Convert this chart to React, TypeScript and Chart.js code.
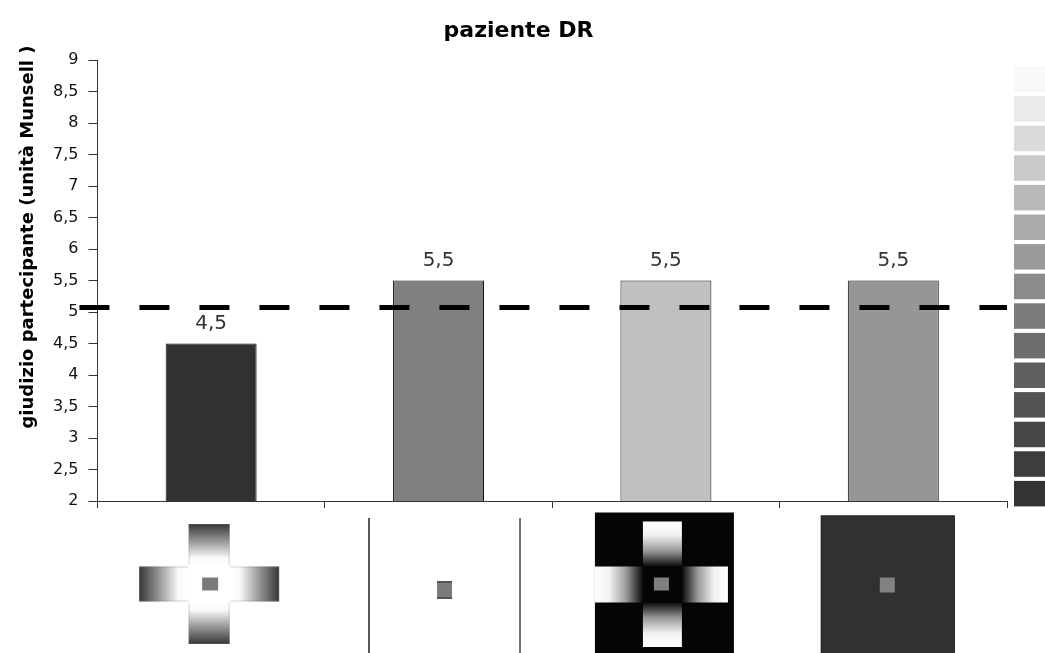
import React, { useEffect, useRef } from "react";
import { Chart, registerables } from "chart.js";

Chart.register(...registerables);

// ---- data ----
const chartTitle = "paziente DR";
const yAxisTitle = "giudizio partecipante (unità Munsell )";
const categories = ["croce chiara", "sfondo bianco", "croce scura", "sfondo scuro"];
const judgements = [4.5, 5.5, 5.5, 5.5];
const barColors = ["#313331", "#808080", "#c0c0c0", "#969696"];
const referenceLevel = 5.07;
const yMin = 2;
const yMax = 9;
const yStep = 0.5;
const munsellScale = [
  "#f8f8f8", "#ebebeb", "#dadada", "#c9c9c9", "#b8b8b8",
  "#aaaaaa", "#9b9b9b", "#8b8b8b", "#7c7c7c", "#6e6e6e",
  "#606060", "#535353", "#484848", "#3d3d3d", "#323332",
];
const stimulusKinds = ["crossLight", "plain", "crossDark", "darkSurround"];

const FONT = "'DejaVu Sans', 'Liberation Sans', sans-serif";
const fmt = (v: number | string) => String(v).replace(".", ",");

function linGrad(ctx: CanvasRenderingContext2D, x0: number, y0: number, x1: number, y1: number, stops: [number, string][]) {
  const g = ctx.createLinearGradient(x0, y0, x1, y1);
  stops.forEach(([o, c]) => g.addColorStop(o, c));
  return g;
}

const darkToWhite: [number, string][] = [[0, "#363636"], [0.45, "#a2a2a2"], [0.8, "#fafafa"], [1, "#ffffff"]];
const whiteToBlack: [number, string][] = [[0, "#ffffff"], [0.3, "#f2f2f2"], [0.65, "#9a9a9a"], [1, "#0a0a0a"]];

function drawCross(ctx: CanvasRenderingContext2D, ox: number, oy: number, aw: number, ah: number, hlL: number, hlR: number, vlT: number, vlB: number, stops: [number, string][], edge: string) {
  ctx.fillStyle = linGrad(ctx, 0, oy - vlT, 0, oy - ah, stops);
  ctx.fillRect(ox - aw, oy - vlT, aw * 2, vlT - ah);
  ctx.fillStyle = linGrad(ctx, 0, oy + vlB, 0, oy + ah, stops);
  ctx.fillRect(ox - aw, oy + ah, aw * 2, vlB - ah);
  ctx.fillStyle = linGrad(ctx, ox - hlL, 0, ox - aw, 0, stops);
  ctx.fillRect(ox - hlL, oy - ah, hlL - aw, ah * 2);
  ctx.fillStyle = linGrad(ctx, ox + hlR, 0, ox + aw, 0, stops);
  ctx.fillRect(ox + aw, oy - ah, hlR - aw, ah * 2);
  if (edge) {
    ctx.strokeStyle = edge;
    ctx.lineWidth = 1;
    ctx.strokeRect(ox - aw + 0.5, oy - vlT + 0.5, aw * 2 - 1, vlT - ah);
    ctx.strokeRect(ox - aw + 0.5, oy + ah - 0.5, aw * 2 - 1, vlB - ah);
    ctx.strokeRect(ox - hlL + 0.5, oy - ah + 0.5, hlL - aw, ah * 2 - 1);
    ctx.strokeRect(ox + aw - 0.5, oy - ah + 0.5, hlR - aw, ah * 2 - 1);
  }
}

function drawStimulus(ctx: CanvasRenderingContext2D, kind: string, cx: number, base: number, H: number) {
  ctx.save();
  if (kind === "crossLight") {
    const ox = cx - 2, oy = base + 83;
    drawCross(ctx, ox, oy, 20.5, 17.5, 70, 70, 60, 60, darkToWhite, "rgba(120,120,120,0.3)");
    ctx.fillStyle = "#ffffff";
    ctx.fillRect(ox - 21, oy - 18.5, 42, 37);
    ctx.fillStyle = "#7a7a7a";
    ctx.fillRect(ox - 7, oy - 6.5, 16, 13);
  } else if (kind === "plain") {
    ctx.strokeStyle = "#555555";
    ctx.lineWidth = 2;
    ctx.beginPath();
    ctx.moveTo(cx - 69.5, base + 17);
    ctx.lineTo(cx - 69.5, H);
    ctx.stroke();
    ctx.strokeStyle = "#6f6f6f";
    ctx.beginPath();
    ctx.moveTo(cx + 81.5, base + 17);
    ctx.lineTo(cx + 81.5, H);
    ctx.stroke();
    ctx.fillStyle = "#7b7b7b";
    ctx.fillRect(cx - 1.5, base + 80, 15, 18);
    ctx.fillStyle = "#555555";
    ctx.fillRect(cx - 1.5, base + 80, 15, 2);
    ctx.fillRect(cx - 1.5, base + 96, 15, 2);
  } else if (kind === "crossDark") {
    ctx.fillStyle = "#050505";
    ctx.fillRect(cx - 71, base + 11.5, 139, H - base);
    const ox = cx - 3.5, oy = base + 83.5;
    drawCross(ctx, ox, oy, 19.5, 18, 67.5, 65.5, 63, 62.5, whiteToBlack, "");
    ctx.fillStyle = "#050505";
    ctx.fillRect(ox - 19.5, oy - 18, 39, 36);
    ctx.fillStyle = "#808080";
    ctx.fillRect(ox - 8.5, oy - 7, 15, 13);
  } else if (kind === "darkSurround") {
    ctx.fillStyle = "#303230";
    ctx.fillRect(cx - 72.5, base + 14.5, 134, H - base);
    ctx.strokeStyle = "#262626";
    ctx.lineWidth = 1;
    ctx.strokeRect(cx - 72, base + 15, 133, H - base);
    ctx.fillStyle = "#828282";
    ctx.fillRect(cx - 13.5, base + 76.5, 15, 15);
  }
  ctx.restore();
}

const decorPlugin = {
  id: "decor",
  afterDatasetsDraw(chart: any) {
    const { ctx, chartArea, scales } = chart;
    const yRef = scales.y.getPixelForValue(referenceLevel);
    ctx.save();
    ctx.strokeStyle = "#000000";
    ctx.lineWidth = 5;
    ctx.lineCap = "butt";
    ctx.setLineDash([30, 30]);
    ctx.beginPath();
    ctx.moveTo(chartArea.left - 18, yRef);
    ctx.lineTo(chartArea.right, yRef);
    ctx.stroke();
    ctx.restore();
    const meta = chart.getDatasetMeta(0);
    ctx.save();
    ctx.font = `20px ${FONT}`;
    ctx.fillStyle = "#333333";
    ctx.textAlign = "center";
    ctx.textBaseline = "alphabetic";
    meta.data.forEach((bar: any, i: number) => {
      ctx.fillText(fmt(judgements[i]), bar.x, bar.y - 15);
    });
    ctx.restore();
  },
  afterDraw(chart: any) {
    const { ctx, chartArea, scales } = chart;
    const W = chart.width;
    const H = chart.height;
    // chart title
    ctx.save();
    ctx.font = `bold 22px ${FONT}`;
    ctx.fillStyle = "#000000";
    ctx.textAlign = "center";
    ctx.textBaseline = "alphabetic";
    ctx.fillText(chartTitle, W / 2 - 4, 37);
    ctx.restore();
    // Munsell grey strip
    ctx.save();
    const sx = chartArea.right + 7;
    const step = 29.6;
    munsellScale.forEach((c, i) => {
      ctx.fillStyle = c;
      ctx.fillRect(sx, chartArea.top + 6.5 + i * step, W - sx, 25.5);
    });
    ctx.restore();
    categories.forEach((_, i) => {
      const cx = scales.x.getPixelForValue(i);
      drawStimulus(ctx, stimulusKinds[i], cx, chartArea.bottom, H);
    });
    // y axis title
    ctx.save();
    ctx.translate(28, chartArea.top + 177);
    ctx.rotate(-Math.PI / 2);
    ctx.font = `bold 18px ${FONT}`;
    ctx.fillStyle = "#000000";
    ctx.textAlign = "center";
    ctx.textBaseline = "middle";
    ctx.fillText(yAxisTitle, 0, 0);
    ctx.restore();
  },
};

export default function App() {
  const ref = useRef<HTMLCanvasElement>(null);
  useEffect(() => {
    const canvas = ref.current;
    if (!canvas) return;
    const chart = new Chart(canvas, {
      type: "bar",
      data: {
        labels: categories,
        datasets: [
          {
            data: judgements,
            backgroundColor: barColors,
            borderColor: "#111111",
            borderWidth: 1,
            borderSkipped: false,
            barPercentage: 0.4,
            categoryPercentage: 1,
          },
        ],
      },
      options: {
        responsive: false,
        animation: false,
        devicePixelRatio: 1,
        layout: { padding: { left: 43, right: 38, top: 60, bottom: 145 } },
        plugins: {
          legend: { display: false },
          tooltip: { enabled: false },
          title: { display: false },
        },
        scales: {
          x: {
            grid: { display: true, drawOnChartArea: false, drawTicks: true, tickLength: 7, color: "#333333", offset: true },
            border: { color: "#333333", width: 1 },
            ticks: { display: false },
          },
          y: {
            min: yMin,
            max: yMax,
            ticks: {
              stepSize: yStep,
              autoSkip: false,
              callback: (v: any) => fmt(v),
              color: "#111111",
              font: { family: FONT, size: 16 },
              padding: 10,
            },
            grid: { drawOnChartArea: false, drawTicks: true, tickLength: 9, color: "#333333" },
            border: { color: "#333333", width: 1 },
          },
        },
      },
      plugins: [decorPlugin],
    } as any);
    return () => chart.destroy();
  }, []);
  return (
    <div style={{ position: "fixed", left: 0, top: 0, width: 1045, height: 653, background: "#ffffff" }}>
      <canvas ref={ref} width={1045} height={653} style={{ width: 1045, height: 653, display: "block" }} />
    </div>
  );
}
